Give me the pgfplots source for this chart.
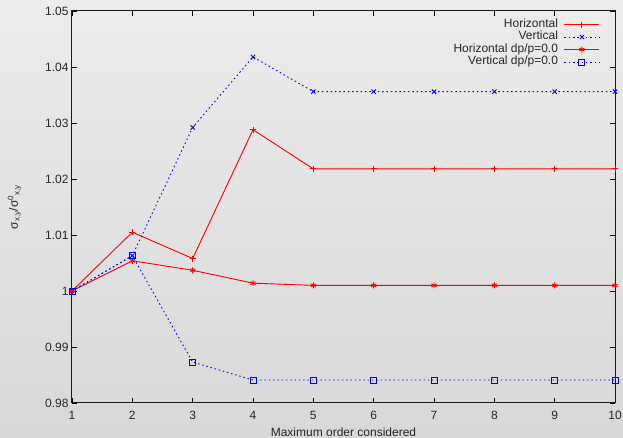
\documentclass[border=0pt]{standalone}
\usepackage{pgfplots}
\pgfplotsset{compat=1.18}
\usepackage{fontspec}
\setmainfont{Liberation Sans}

\definecolor{gpred}{RGB}{255,0,0}
\definecolor{gpblue}{RGB}{0,0,255}
\definecolor{bgtop}{RGB}{236,236,236}
\definecolor{bgbot}{RGB}{216,216,216}

\begin{document}
\begin{tikzpicture}
\shade[top color=bgtop, bottom color=bgbot] (-72pt,-35pt) rectangle (551pt,403pt);
\begin{axis}[
    at={(0,0)}, anchor=south west,
    scale only axis,
    width=543pt, height=392pt,
    xmin=1, xmax=10, ymin=0.98, ymax=1.05,
    xtick={1,...,10},
    ytick={0.98,0.99,1,1.01,1.02,1.03,1.04,1.05},
    yticklabels={0.98,0.99,1,1.01,1.02,1.03,1.04,1.05},
    tick align=inside,
    major tick length=5pt,
    minor tick num=0,
    axis line style={black!90, line width=1pt},
    every tick/.style={black, line width=0.8pt},
    /pgf/number format/assume math mode=true,
    font=\fontsize{12}{14}\selectfont,
    ticklabel style={font=\fontsize{12}{14}\selectfont, text=black!85},
    xticklabel style={yshift=-5pt},
    label style={font=\fontsize{12}{14}\selectfont, text=black!85},
    xlabel={Maximum order considered},
    ylabel={σ\textsubscript{x,y}/σ\textsuperscript{0}\textsubscript{x,y}},
    xlabel style={yshift=-1pt},
    ylabel style={yshift=17pt},
    legend style={at={(axis description cs:0.9725,0.982)}, anchor=north east,
        draw=none, fill=none, inner sep=0pt,
        font=\fontsize{12}{14}\selectfont, text=black!85,
        nodes={inner sep=0pt, text height=9pt, text depth=3.5pt},
        row sep=0pt, column sep=6pt},
    legend cell align=right,
    legend plot pos=right,
    legend image code/.code={\draw[mark repeat=2, mark phase=2, #1]
        plot coordinates {(0pt,0pt) (17.5pt,0pt) (35pt,0pt)};},
]
\addplot[gpred, line width=0.9pt, mark=+, mark size=3pt, mark options={solid, draw=gpred}] coordinates {
    (1,1.0000) (2,1.0105) (3,1.0058) (4,1.0288) (5,1.0218) (6,1.0218)
    (7,1.0218) (8,1.0218) (9,1.0218) (10,1.0218)
};
\addlegendentry{Horizontal}
\addplot[gpblue, line width=0.9pt, dash pattern=on 1.5pt off 2.8pt, mark=x, mark size=3pt, mark options={solid, draw=gpblue}] coordinates {
    (1,1.0000) (2,1.0063) (3,1.0292) (4,1.0418) (5,1.0356) (6,1.0356)
    (7,1.0356) (8,1.0356) (9,1.0356) (10,1.0356)
};
\addlegendentry{Vertical}
\addplot[gpred, line width=0.9pt, mark=asterisk, mark size=3pt, mark options={solid, draw=gpred}] coordinates {
    (1,1.0000) (2,1.0054) (3,1.0037) (4,1.0014) (5,1.0010) (6,1.0010)
    (7,1.0010) (8,1.0010) (9,1.0010) (10,1.0010)
};
\addlegendentry{Horizontal dp/p=0.0}
\addplot[gpblue, line width=0.9pt, dash pattern=on 1.5pt off 2.8pt, mark=square, mark size=3pt, mark options={solid, draw=gpblue, fill=none}] coordinates {
    (1,1.0000) (2,1.0063) (3,0.9873) (4,0.9841) (5,0.9841) (6,0.9841)
    (7,0.9841) (8,0.9841) (9,0.9841) (10,0.9841)
};
\addlegendentry{Vertical dp/p=0.0}
\end{axis}
\pgfresetboundingbox
\useasboundingbox (-72pt,-35pt) rectangle (551pt,403pt);
\end{tikzpicture}
\end{document}
